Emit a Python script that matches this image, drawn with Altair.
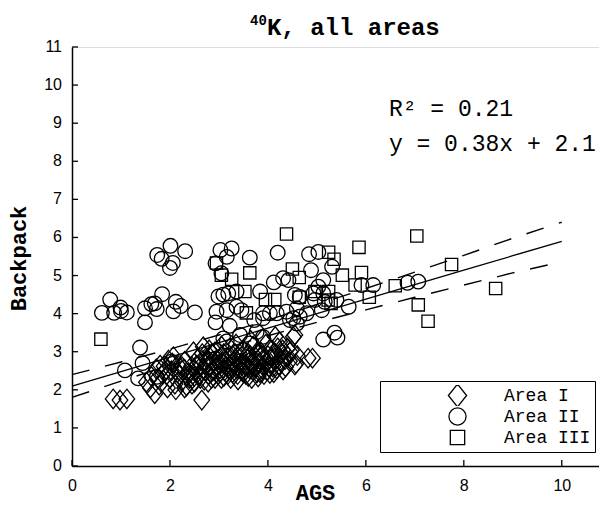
import altair as alt
import pandas as pd

# ---- data ----
area_names = ["Area I", "Area II", "Area III"]

area1 = [(0.84,1.76),(0.98,1.73),(1.12,1.76),(1.52,2.2),(1.62,2.35),(1.69,1.9),(1.72,2.55),(1.78,2.12),
         (1.85,2.4),(1.88,2.62),(1.95,2.05),(1.97,2.78),(2.0,2.3),(2.03,2.5),(2.07,2.87),(2.1,2.15),
         (2.12,2.0),(2.16,2.65),(2.2,2.38),(2.24,2.22),(2.28,2.55),(2.3,2.75),(2.34,2.1),(2.38,2.45),
         (2.4,2.3),(2.44,2.62),(2.48,3.0),(2.5,2.2),(2.52,2.5),(2.56,2.8),(2.6,2.38),(2.62,2.6),
         (2.65,1.73),(2.66,2.95),(2.68,3.13),(2.7,2.25),(2.72,2.5),(2.75,2.7),(2.78,2.4),(2.8,2.88),
         (2.82,2.6),(2.85,2.3),(2.88,2.75),(2.9,2.5),(2.92,3.0),(2.95,2.62),(2.98,2.4),(3.0,2.8),
         (3.02,2.55),(3.05,2.3),(3.08,2.7),(3.1,2.95),(3.12,2.5),(3.15,2.62),(3.18,2.4),(3.2,2.85),
         (3.22,3.1),(3.25,2.6),(3.28,2.45),(3.3,2.75),(3.33,2.95),(3.36,2.55),(3.39,2.26),(3.4,2.7),
         (3.43,2.85),(3.46,2.5),(3.5,3.05),(3.52,2.65),(3.55,2.4),(3.58,2.8),(3.6,2.95),(3.63,2.55),
         (3.67,2.3),(3.68,2.72),(3.7,3.15),(3.72,2.6),(3.75,2.85),(3.78,2.45),(3.8,2.34),(3.82,2.7),
         (3.85,3.0),(3.88,2.55),(3.9,2.8),(3.93,2.65),(3.96,3.2),(3.98,2.5),(4.0,2.9),(4.04,2.43),
         (4.05,2.7),(4.08,3.05),(4.1,2.6),(4.14,2.85),(4.18,2.55),(4.2,3.1),(4.24,3.26),(4.25,2.75),
         (4.28,2.95),(4.31,2.52),(4.35,2.8),(4.4,3.1),(4.41,2.87),(4.45,3.0),(4.48,3.04),(4.52,3.39),
         (4.55,2.65),(4.57,2.69),(4.6,2.9),(4.82,2.83),(4.91,2.83),(4.55,3.44),
         (2.25,2.6),(2.35,2.35),(2.45,2.15),(2.55,2.65),(2.62,2.3),(2.68,2.55),(2.74,2.85),(2.78,2.2),
         (2.84,2.45),(2.86,2.95),(2.92,2.3),(2.96,2.78),(3.02,2.45),(3.06,2.9),(3.1,2.35),(3.14,2.75),
         (3.2,2.55),(3.24,2.3),(3.28,2.9),(3.32,2.65),(3.38,2.4),(3.42,2.95),(3.46,2.7),(3.5,2.45),
         (3.56,2.62),(3.6,2.35),(3.64,2.9),(3.7,2.5),(3.74,2.75),(3.78,2.95),(3.84,2.45),(3.88,2.9),
         (3.92,2.4),(3.97,2.72),(4.02,2.6),(4.07,2.85),(4.12,2.45),(4.16,2.95),(4.22,2.65),(4.3,3.05),
         (4.36,2.6),(4.44,2.75),(1.9,2.5),(2.05,2.7),(2.15,2.45),(1.8,2.65),(1.6,2.05),(1.75,2.3),
         (2.3,2.05),(2.5,2.35),(3.05,3.15),(3.35,3.2),(3.65,3.3),(3.9,3.35),(4.15,3.4),(2.8,3.05)]

area2 = [(0.78,4.37),(0.61,4.02),(0.86,4.02),(0.99,4.16),(1.0,4.07),(1.12,4.03),
         (1.49,4.14),(1.49,3.77),(1.62,4.25),(1.69,4.27),(1.84,4.51),(1.73,4.12),(2.07,4.06),
         (2.12,4.31),(2.22,4.2),(2.51,4.03),
         (2.01,5.78),(2.31,5.64),(1.74,5.54),(1.83,5.44),(2.06,5.33),(2.0,5.2),
         (1.39,3.11),(1.44,2.7),(1.08,2.51),(1.35,2.3),(1.73,2.34),(2.03,2.74),
         (3.03,5.67),(3.26,5.71),(2.93,5.32),(3.16,5.49),(3.63,5.47),(4.2,5.6),(4.84,5.56),
         (5.03,5.62),(5.31,5.23),(4.88,5.14),(3.05,5.06),
         (2.99,4.45),(3.09,4.5),(3.19,4.53),(3.36,4.58),(3.84,4.58),(4.12,4.82),(4.31,4.93),
         (4.42,4.88),(5.13,4.88),(5.03,4.71),(5.91,4.75),(6.15,4.75),(4.55,4.49),(4.65,4.44),
         (4.93,4.53),(5.13,4.53),(4.96,4.36),(5.16,4.31),(5.4,4.36),(5.65,4.18),
         (2.95,4.05),(3.36,4.18),(3.46,4.09),(3.16,4.09),(3.9,4.01),(4.04,4.01),(4.18,4.01),
         (4.38,4.05),(4.59,4.14),(4.79,4.01),(5.1,4.09),
         (2.93,3.77),(3.22,3.68),(3.72,3.83),(3.9,3.88),(4.52,3.88),(4.65,3.92),(4.59,3.74),
         (4.45,3.83),(5.13,3.32),(5.36,3.5),(5.42,3.37),(6.85,4.81),(7.07,4.84),
         (3.09,3.35),(3.43,3.44),(3.77,3.52),(3.9,3.39),(3.16,3.27),(3.63,3.22)]

area3 = [(0.59,3.33),(4.38,6.09),(2.95,5.33),(3.05,5.01),(3.26,4.9),(3.63,5.07),(3.53,4.58),
         (3.95,4.37),(4.14,4.37),(4.5,5.17),(4.64,4.95),(4.64,4.43),(3.56,4.02),(7.04,6.04),
         (5.86,5.74),(5.24,5.61),(5.35,5.43),(5.52,5.01),(5.91,5.08),(7.75,5.29),(5.78,4.75),
         (6.6,4.73),(5.24,4.58),(5.29,4.27),(6.07,4.43),(7.07,4.23),(7.27,3.8),(8.65,4.66),
         (4.96,4.58),(5.23,4.36)]

fit_x = [0, 1, 2, 3, 4, 5, 6, 7, 8, 9, 10]
fit_y = [2.10, 2.48, 2.86, 3.24, 3.62, 4.00, 4.38, 4.76, 5.14, 5.52, 5.90]
upper_y = [2.40, 2.73, 3.07, 3.44, 3.83, 4.24, 4.66, 5.09, 5.53, 5.98, 6.40]
lower_y = [1.80, 2.23, 2.65, 3.04, 3.42, 3.77, 4.10, 4.43, 4.75, 5.07, 5.36]

x_ticks = [0, 2, 4, 6, 8, 10]
y_ticks = [0, 1, 2, 3, 4, 5, 6, 7, 8, 9, 10, 11]

title_sup = "40"
title_main = "K, all areas"
r2_text = "R\u00b2 = 0.21"
eq_text = "y = 0.38x + 2.1"

# ---- tables ----
rows = []
for name, pts in zip(area_names, [area1, area2, area3]):
    for px, py in pts:
        rows.append({"x": px, "y": py, "area": name})
pts_df = pd.DataFrame(rows)
fit_df = pd.DataFrame({"x": fit_x, "fit": fit_y, "upper": upper_y, "lower": lower_y})
xt_df = pd.DataFrame({"v": x_ticks})
yt_df = pd.DataFrame({"v": y_ticks})
one_df = pd.DataFrame({"k": [0]})

MONO = "Liberation Mono, DejaVu Sans Mono, monospace"
SANS = "Liberation Sans, Arial, sans-serif"

xs = alt.Scale(domain=[0, 10.76], nice=False, zero=False)
ys = alt.Scale(domain=[0, 11], nice=False, zero=False)

shape_paths = [
    "M0,-1L0.8,0L0,1L-0.8,0Z",
    "M0.75,0A0.75,0.75 0 1,1 -0.75,0A0.75,0.75 0 1,1 0.75,0Z",
    "M-0.63,-0.63L0.63,-0.63L0.63,0.63L-0.63,0.63Z",
]

xaxis = alt.Axis(values=x_ticks, ticks=False, grid=False, domainColor="black", domainWidth=1.5,
                 labelFont=SANS, labelFontSize=16, labelColor="black", labelPadding=11,
                 labelOverlap=False, labelFlush=False, labelBound=False,
                 titleFont=MONO, titleFontSize=22, titleFontWeight="bold", titleColor="black",
                 titleX=243, titleY=33, titleBaseline="alphabetic")
yaxis = alt.Axis(values=y_ticks, ticks=False, grid=False, labels=False, domainColor="black", domainWidth=1.5,
                 titleFont=MONO, titleFontSize=22, titleFontWeight="bold", titleColor="black",
                 titleX=-54, titleY=211, titleBaseline="middle", titleAlign="center")


def X(field):
    return alt.X(field, scale=xs, axis=xaxis, title="AGS")


def Y(field):
    return alt.Y(field, scale=ys, axis=yaxis, title="Backpack")


points = alt.Chart(pts_df).mark_point(filled=False, color="black", strokeWidth=1.3, size=380, opacity=1).encode(
    x=X("x:Q"),
    y=Y("y:Q"),
    shape=alt.Shape("area:N", scale=alt.Scale(domain=area_names, range=shape_paths),
                    legend=alt.Legend(title=None, orient="none", legendX=308, legendY=334,
                                      strokeColor="black", fillColor="white", padding=4,
                                      symbolSize=520, symbolStrokeWidth=1.3, symbolStrokeColor="black",
                                      symbolFillColor="transparent", symbolOffset=61, labelOffset=34,
                                      clipHeight=21, rowPadding=0,
                                      labelFont=MONO, labelFontSize=18, labelColor="black")),
)

fit_line = alt.Chart(fit_df).mark_line(color="black", strokeWidth=1.3).encode(x=X("x:Q"), y=Y("fit:Q"))
up_line = alt.Chart(fit_df).mark_line(color="black", strokeWidth=1.4, strokeDash=[18, 16]).encode(
    x=X("x:Q"), y=Y("upper:Q"))
lo_line = alt.Chart(fit_df).mark_line(color="black", strokeWidth=1.4, strokeDash=[18, 16]).encode(
    x=X("x:Q"), y=Y("lower:Q"))

xticks = alt.Chart(xt_df).mark_rule(color="black", strokeWidth=1.3).encode(
    x=X("v:Q"), y=alt.value(419), y2=alt.value(413))
yticks = alt.Chart(yt_df).mark_rule(color="black", strokeWidth=1.3).encode(
    y=Y("v:Q"), x=alt.value(0), x2=alt.value(6))
ylabels = alt.Chart(yt_df).mark_text(font=SANS, fontSize=16, align="right", baseline="middle",
                                     color="black").encode(
    y=Y("v:Q"), x=alt.value(-10), text=alt.Text("v:Q", format="d"))

txt = dict(font=MONO, fontSize=23, align="left", baseline="alphabetic", color="black")
r2 = alt.Chart(one_df).mark_text(**txt).encode(
    x=alt.datum(6.47), y=alt.datum(9.2), text=alt.value(r2_text))
eq = alt.Chart(one_df).mark_text(**txt).encode(
    x=alt.datum(6.47), y=alt.datum(8.26), text=alt.value(eq_text))
t_main = alt.Chart(one_df).mark_text(font=MONO, fontSize=24, fontWeight="bold", align="left",
                                     baseline="alphabetic", color="black").encode(
    x=alt.datum(3.98), y=alt.datum(11.31), text=alt.value(title_main))
t_sup = alt.Chart(one_df).mark_text(font=MONO, fontSize=14, fontWeight="bold", align="right",
                                    baseline="alphabetic", color="black").encode(
    x=alt.datum(3.98), y=alt.datum(11.58), text=alt.value(title_sup))

chart = alt.layer(points, fit_line, up_line, lo_line, xticks, yticks, ylabels, r2, eq, t_main, t_sup).properties(
    width=527, height=419,
    padding={"left": 64, "top": 39, "right": 0, "bottom": 40},
    autosize=alt.AutoSizeParams(type="none"),
).configure_view(stroke=None).configure(background="white")

chart.save("out.html", embed_options={"renderer": "svg", "actions": False})
